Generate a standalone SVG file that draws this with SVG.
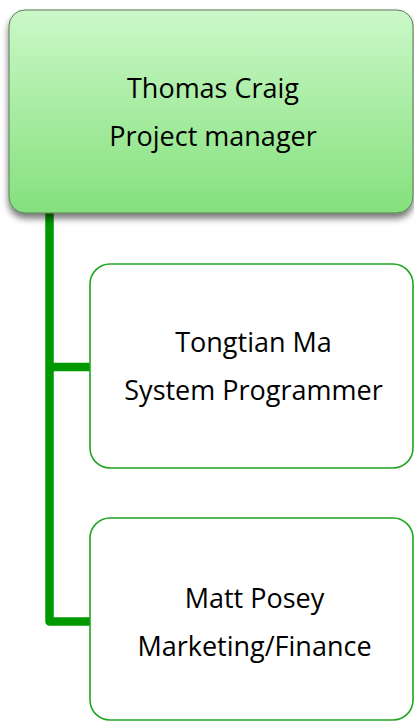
<svg xmlns="http://www.w3.org/2000/svg" width="414" height="721" viewBox="0 0 414 721">
<defs>
<linearGradient id="g" x1="0" y1="0" x2="0" y2="1">
<stop offset="0" stop-color="#cbf8c8"/>
<stop offset="1" stop-color="#84e07c"/>
</linearGradient>
<filter id="sh" x="-10%" y="-10%" width="120%" height="130%">
<feGaussianBlur in="SourceAlpha" stdDeviation="3.5"/>
<feOffset dx="0" dy="5" result="b"/>
<feComponentTransfer><feFuncA type="linear" slope="0.55"/></feComponentTransfer>
<feMerge><feMergeNode/><feMergeNode in="SourceGraphic"/></feMerge>
</filter>
</defs>
<style>
text{font-family:"Open Sans","Liberation Sans",sans-serif;font-size:27px;fill:#000;text-anchor:middle}
.child{fill:#fff;stroke:#1fa51f;stroke-width:1.6}
.conn{fill:none;stroke:#009900;stroke-width:8.5;stroke-linejoin:round}
</style>
<rect width="414" height="721" fill="#fff"/>
<g id="connectors">
<path class="conn" d="M49.5 212 V621.5 H90"/>
<path class="conn" d="M49.5 367 H90"/>
</g>
<g id="node-thomas">
<rect x="9" y="10" width="404" height="203" rx="16" fill="url(#g)" stroke="#5a7a58" stroke-width="1" filter="url(#sh)"/>
<text x="213" y="98">Thomas Craig</text>
<text x="213" y="146">Project manager</text>
</g>
<g id="node-tongtian">
<rect class="child" x="90" y="264" width="323" height="204" rx="20"/>
<text x="253.5" y="352">Tongtian Ma</text>
<text x="253.5" y="400">System Programmer</text>
</g>
<g id="node-matt">
<rect class="child" x="90" y="518" width="323" height="202" rx="20"/>
<text x="254.5" y="608">Matt Posey</text>
<text x="254.5" y="656">Marketing/Finance</text>
</g>
</svg>
